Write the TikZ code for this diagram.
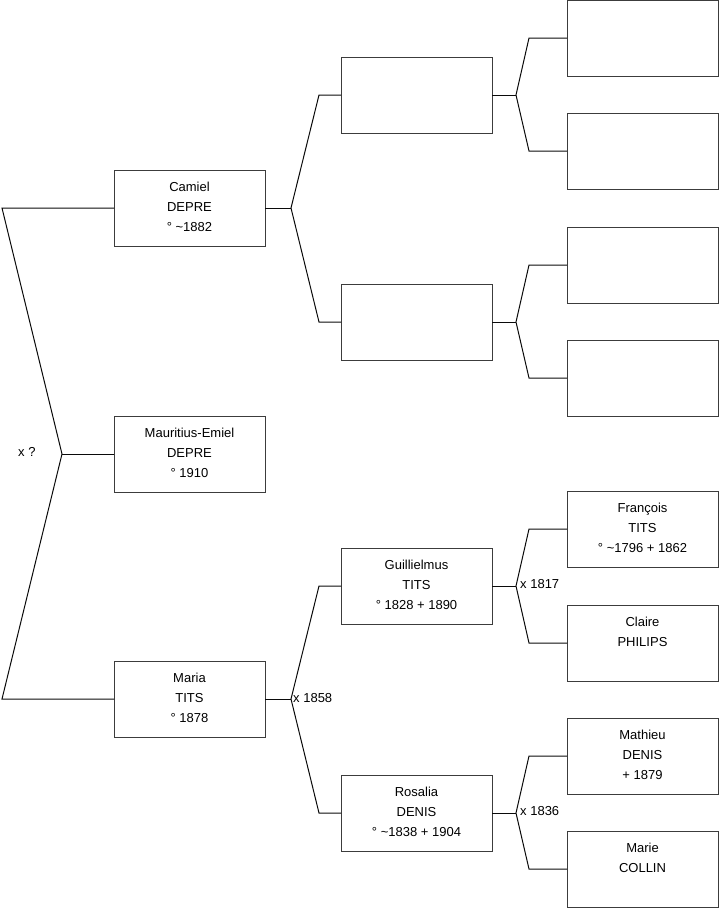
\documentclass[tikz,border=0pt]{standalone}
\usepackage{fontspec}
\setmainfont{Liberation Sans}
\definecolor{boxline}{RGB}{60,60,60}
\definecolor{conline}{RGB}{10,10,10}
\begin{document}
\begin{tikzpicture}[x=1pt,y=-1pt,
  pbox/.style={draw=boxline,line width=1pt,minimum width=151pt,minimum height=76pt,inner sep=0pt,outer sep=0pt},
  ptext/.style={anchor=north,yshift=-12pt,align=center,inner sep=0pt,font=\fontsize{13}{20}\selectfont},
  plabel/.style={anchor=west,inner sep=0pt,font=\fontsize{13}{16}\selectfont},
  con/.style={draw=conline,line width=1pt}]
\useasboundingbox (0,0) rectangle (719,908);
% generation 1
\node[pbox] (camiel) at (189.5,208) {};
\node[pbox] (mauritius) at (189.5,454) {};
\node[pbox] (maria) at (189.5,699) {};
% generation 2
\node[pbox] (g2a) at (416.5,95) {};
\node[pbox] (g2b) at (416.5,322) {};
\node[pbox] (guill) at (416.5,586) {};
\node[pbox] (rosalia) at (416.5,813) {};
% generation 3
\node[pbox] (g3a) at (642.5,38) {};
\node[pbox] (g3b) at (642.5,151) {};
\node[pbox] (g3c) at (642.5,265) {};
\node[pbox] (g3d) at (642.5,378) {};
\node[pbox] (francois) at (642.5,529) {};
\node[pbox] (claire) at (642.5,643) {};
\node[pbox] (mathieu) at (642.5,756) {};
\node[pbox] (marie) at (642.5,869) {};
% texts
\node[ptext] (tcamiel) at (camiel.north) {Camiel\\DEPRE\\° \textasciitilde1882};
\node[ptext] (tmaur) at (mauritius.north) {Mauritius-Emiel\\DEPRE\\° 1910};
\node[ptext] (tmaria) at (maria.north) {Maria\\TITS\\° 1878};
\node[ptext] (tguill) at (guill.north) {Guillielmus\\TITS\\° 1828 + 1890};
\node[ptext] (trosa) at (rosalia.north) {Rosalia\\DENIS\\° \textasciitilde1838 + 1904};
\node[ptext] (tfran) at (francois.north) {François\\TITS\\° \textasciitilde1796 + 1862};
\node[ptext] (tclaire) at (claire.north) {Claire\\PHILIPS};
\node[ptext] (tmath) at (mathieu.north) {Mathieu\\DENIS\\+ 1879};
\node[ptext] (tmarie) at (marie.north) {Marie\\COLLIN};
% junction coordinates
\coordinate (j0) at (62,454);
\coordinate (a0) at (2,208);
\coordinate (b0) at (2,699);
\coordinate (j1) at (291,208);
\coordinate (a1) at (319,95);
\coordinate (b1) at (319,322);
\coordinate (j2) at (291,699);
\coordinate (a2) at (319,586);
\coordinate (b2) at (319,813);
\coordinate (j3) at (516,95);
\coordinate (a3) at (529,38);
\coordinate (b3) at (529,151);
\coordinate (j4) at (516,322);
\coordinate (a4) at (529,265);
\coordinate (b4) at (529,378);
\coordinate (j5) at (516,586);
\coordinate (a5) at (529,529);
\coordinate (b5) at (529,643);
\coordinate (j6) at (516,813);
\coordinate (a6) at (529,756);
\coordinate (b6) at (529,869);
% connectors
\draw[con] (camiel.west) -- (a0) -- (j0) -- (b0) -- (maria.west);
\draw[con] (j0) -- (mauritius.west);
\draw[con] (camiel.east) -- (j1);
\draw[con] (g2a.west) -- (a1) -- (j1) -- (b1) -- (g2b.west);
\draw[con] (maria.east) -- (j2);
\draw[con] (guill.west) -- (a2) -- (j2) -- (b2) -- (rosalia.west);
\draw[con] (g2a.east) -- (j3);
\draw[con] (g3a.west) -- (a3) -- (j3) -- (b3) -- (g3b.west);
\draw[con] (g2b.east) -- (j4);
\draw[con] (g3c.west) -- (a4) -- (j4) -- (b4) -- (g3d.west);
\draw[con] (guill.east) -- (j5);
\draw[con] (francois.west) -- (a5) -- (j5) -- (b5) -- (claire.west);
\draw[con] (rosalia.east) -- (j6);
\draw[con] (mathieu.west) -- (a6) -- (j6) -- (b6) -- (marie.west);
% marriage labels
\node[plabel] (m0) at (18,452) {x ?};
\node[plabel] (m1) at (293,698) {x 1858};
\node[plabel] (m2) at (520,584) {x 1817};
\node[plabel] (m3) at (520,811) {x 1836};
\end{tikzpicture}
\end{document}
